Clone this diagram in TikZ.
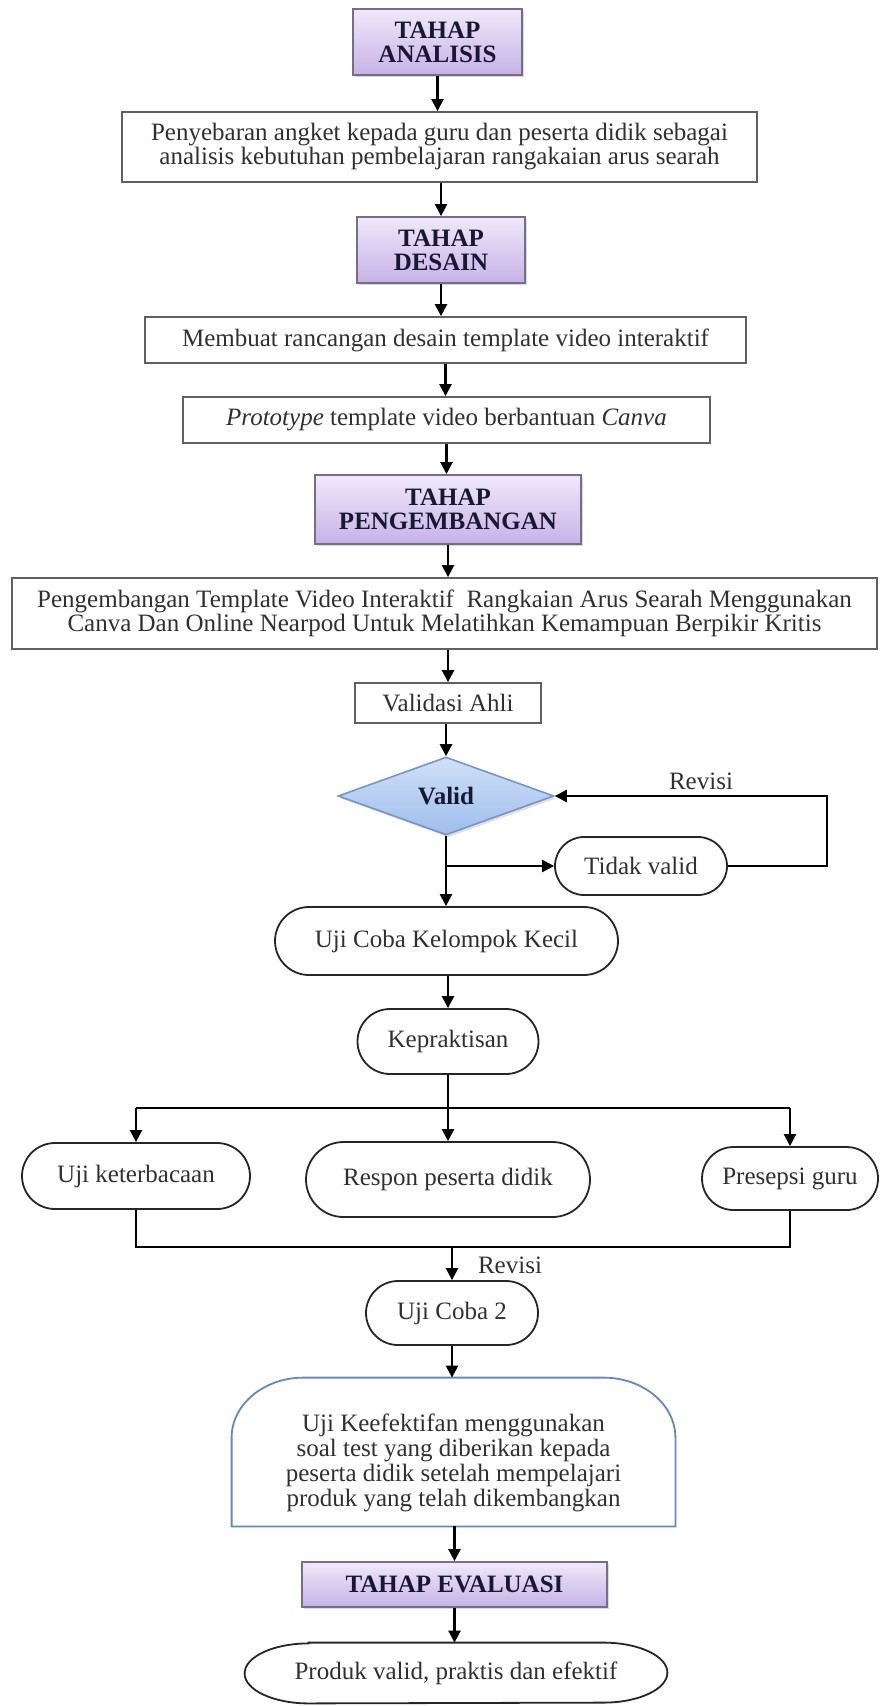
\documentclass[tikz,border=0pt]{standalone}
\usepackage{fontspec}
\setmainfont{Liberation Serif}
\usepackage{tikz}
\usetikzlibrary{arrows.meta,positioning,shapes.geometric,shapes.misc,shadows,calc}
\definecolor{tahaptop}{RGB}{240,233,250}
\definecolor{tahapbot}{RGB}{198,178,230}
\definecolor{tahapline}{RGB}{118,110,135}
\definecolor{validtop}{RGB}{208,224,247}
\definecolor{validbot}{RGB}{158,190,236}
\definecolor{validline}{RGB}{118,148,198}
\definecolor{keefline}{RGB}{100,135,190}
\definecolor{teks}{RGB}{48,48,48}
\definecolor{judul}{RGB}{24,24,52}
\newcommand{\ukuran}{\fontsize{12.5pt}{12pt}\selectfont}
\tikzset{
  tahap/.style  ={draw=tahapline,line width=0.9pt,top color=tahaptop,bottom color=tahapbot,
                  align=center,font=\ukuran\bfseries,text=judul,inner sep=2pt,
                  drop shadow={shadow xshift=1.2pt,shadow yshift=-1.2pt,opacity=0.3}},
  kotak/.style  ={draw=gray!75!black,line width=0.9pt,fill=white,align=center,
                  font=\ukuran,text=teks,inner sep=2pt},
  bulat/.style  ={kotak,draw=black!85,rounded rectangle},
  putusan/.style={diamond,draw=validline,line width=0.8pt,top color=validtop,bottom color=validbot,
                  font=\ukuran\bfseries,text=judul,inner sep=0pt,
                  drop shadow={shadow xshift=1.2pt,shadow yshift=-1.2pt,opacity=0.25}},
  alur/.style   ={-{Triangle[length=6pt,width=6pt]},line width=1.2pt},
  garis/.style  ={line width=1.2pt},
  lbl/.style    ={font=\ukuran,text=teks},
}

\begin{document}
\begin{tikzpicture}[x=0.5pt,y=-0.5pt]
  \useasboundingbox (0,0) rectangle (886,1706);
  % analisis
  \node[tahap,minimum width=84.5pt,minimum height=33pt] (analisis) at (437.5,42) {TAHAP\\ANALISIS};
  \node[kotak,minimum width=317.5pt,minimum height=35pt] (angket) at (439.5,147)
    {Penyebaran angket kepada guru dan peserta didik sebagai\\analisis kebutuhan pembelajaran rangakaian arus searah};
  % desain
  \node[tahap,minimum width=84pt,minimum height=33pt] (desain) at (441,250) {TAHAP\\DESAIN};
  \node[kotak,minimum width=300.5pt,minimum height=23pt] (rancangan) at (445.5,340)
    {Membuat rancangan desain template video interaktif};
  \node[kotak,minimum width=263.5pt,minimum height=23pt] (prototype) at (446.5,420)
    {\textit{Prototype} template video berbantuan \textit{Canva}};
  % pengembangan
  \node[tahap,minimum width=133pt,minimum height=34.5pt] (pengembangan) at (448,509.5) {TAHAP\\PENGEMBANGAN};
  \node[kotak,minimum width=432.5pt,minimum height=35.5pt] (template) at (444.5,613.5)
    {Pengembangan Template Video Interaktif\ \ Rangkaian Arus Searah Menggunakan\\Canva Dan Online Nearpod Untuk Melatihkan Kemampuan Berpikir Kritis};
  \node[kotak,minimum width=93pt,minimum height=20pt] (validasi) at (448,703) {Validasi Ahli};
  \node[putusan,minimum width=108pt,minimum height=39pt] (valid) at (446,796) {Valid};
  \node[bulat,minimum width=90pt,minimum height=29pt] (tidak) at (641,866) {Tidak valid};
  \coordinate (belok) at (827,796);
  \node[lbl] (revisi1) at (701,781) {Revisi};
  % uji coba
  \node[bulat,minimum width=175.5pt,minimum height=34pt] (kecil) at (446.5,941) {Uji Coba Kelompok Kecil};
  \node[bulat,minimum width=94.5pt,minimum height=32.5pt] (praktis) at (448,1041.5) {Kepraktisan};
  \coordinate (bagi) at (448,1108);
  \node[bulat,minimum width=118pt,minimum height=33pt] (baca) at (136,1176) {Uji keterbacaan};
  \node[bulat,minimum width=146pt,minimum height=37.5pt] (respon) at (448,1179.5) {Respon peserta didik};
  \node[bulat,minimum width=92pt,minimum height=31.5pt] (guru) at (790,1178.5) {Presepsi guru};
  \coordinate (gabung) at (452,1247);
  \node[lbl] (revisi2) at (510,1265) {Revisi};
  \node[bulat,minimum width=90pt,minimum height=32pt] (coba2) at (452,1313) {Uji Coba 2};
  % keefektifan
  \node[minimum width=221.5pt,minimum height=74pt,inner sep=0pt] (keefbox) at (453.5,1452) {};
  \draw[draw=keefline,line width=0.9pt] (keefbox.south west)
    -- ([yshift=-30pt]keefbox.north west) arc[start angle=180,end angle=90,x radius=36pt,y radius=30pt]
    -- ([xshift=-36pt]keefbox.north east) arc[start angle=90,end angle=0,x radius=36pt,y radius=30pt]
    -- (keefbox.south east) -- cycle;
  \node[lbl,align=center,font=\fontsize{12.5pt}{12.5pt}\selectfont] (keef) at (453.5,1463)
    {Uji Keefektifan menggunakan\\soal test yang diberikan kepada\\peserta didik setelah mempelajari\\produk yang telah dikembangkan};
  % evaluasi
  \node[tahap,minimum width=152.5pt,minimum height=22.5pt] (evaluasi) at (454.5,1584.5) {TAHAP EVALUASI};
  \node[lbl,minimum width=211pt,minimum height=30pt,inner sep=0pt] (produk) at (456,1673) {Produk valid, praktis dan efektif};
  \draw[draw=black!85,line width=0.9pt] ([xshift=32pt]produk.north west)
    -- ([xshift=-32pt]produk.north east) arc[start angle=90,end angle=-90,x radius=32pt,y radius=15pt]
    -- ([xshift=32pt]produk.south west) arc[start angle=270,end angle=90,x radius=32pt,y radius=15pt]
    -- cycle;

  \draw[alur] (analisis.south) -- (analisis.south |- angket.north);
  \draw[alur] (desain.north |- angket.south) -- (desain.north);
  \draw[alur] (desain.south) -- (desain.south |- rancangan.north);
  \draw[alur] (rancangan.south) -- (rancangan.south |- prototype.north);
  \draw[alur] (prototype.south) -- (prototype.south |- pengembangan.north);
  \draw[alur] (pengembangan.south) -- (pengembangan.south |- template.north);
  \draw[alur] (validasi.north |- template.south) -- (validasi.north);
  \draw[alur] (valid.north |- validasi.south) -- (valid.north);
  \draw[alur] (valid.south) -- (valid.south |- kecil.north);
  \draw[alur] (valid.south |- tidak.west) -- (tidak.west);
  \draw[alur] (tidak.east) -| (belok) -- (valid.east);
  \draw[alur] (praktis.north |- kecil.south) -- (praktis.north);
  \draw[alur] (praktis.south) -- (praktis.south |- respon.north);
  \draw[garis] (baca.north |- bagi) -- (guru.north |- bagi);
  \draw[alur] (baca.north |- bagi) -- (baca.north);
  \draw[alur] (guru.north |- bagi) -- (guru.north);
  \draw[garis] (baca.south) -- (baca.south |- gabung) -- (guru.south |- gabung) -- (guru.south);
  \draw[alur] (gabung) -- (gabung |- coba2.north);
  \draw[alur] (coba2.south) -- (coba2.south |- keefbox.north);
  \draw[alur] (evaluasi.north |- keefbox.south) -- (evaluasi.north);
  \draw[alur] (evaluasi.south) -- (evaluasi.south |- produk.north);
\end{tikzpicture}
\end{document}
